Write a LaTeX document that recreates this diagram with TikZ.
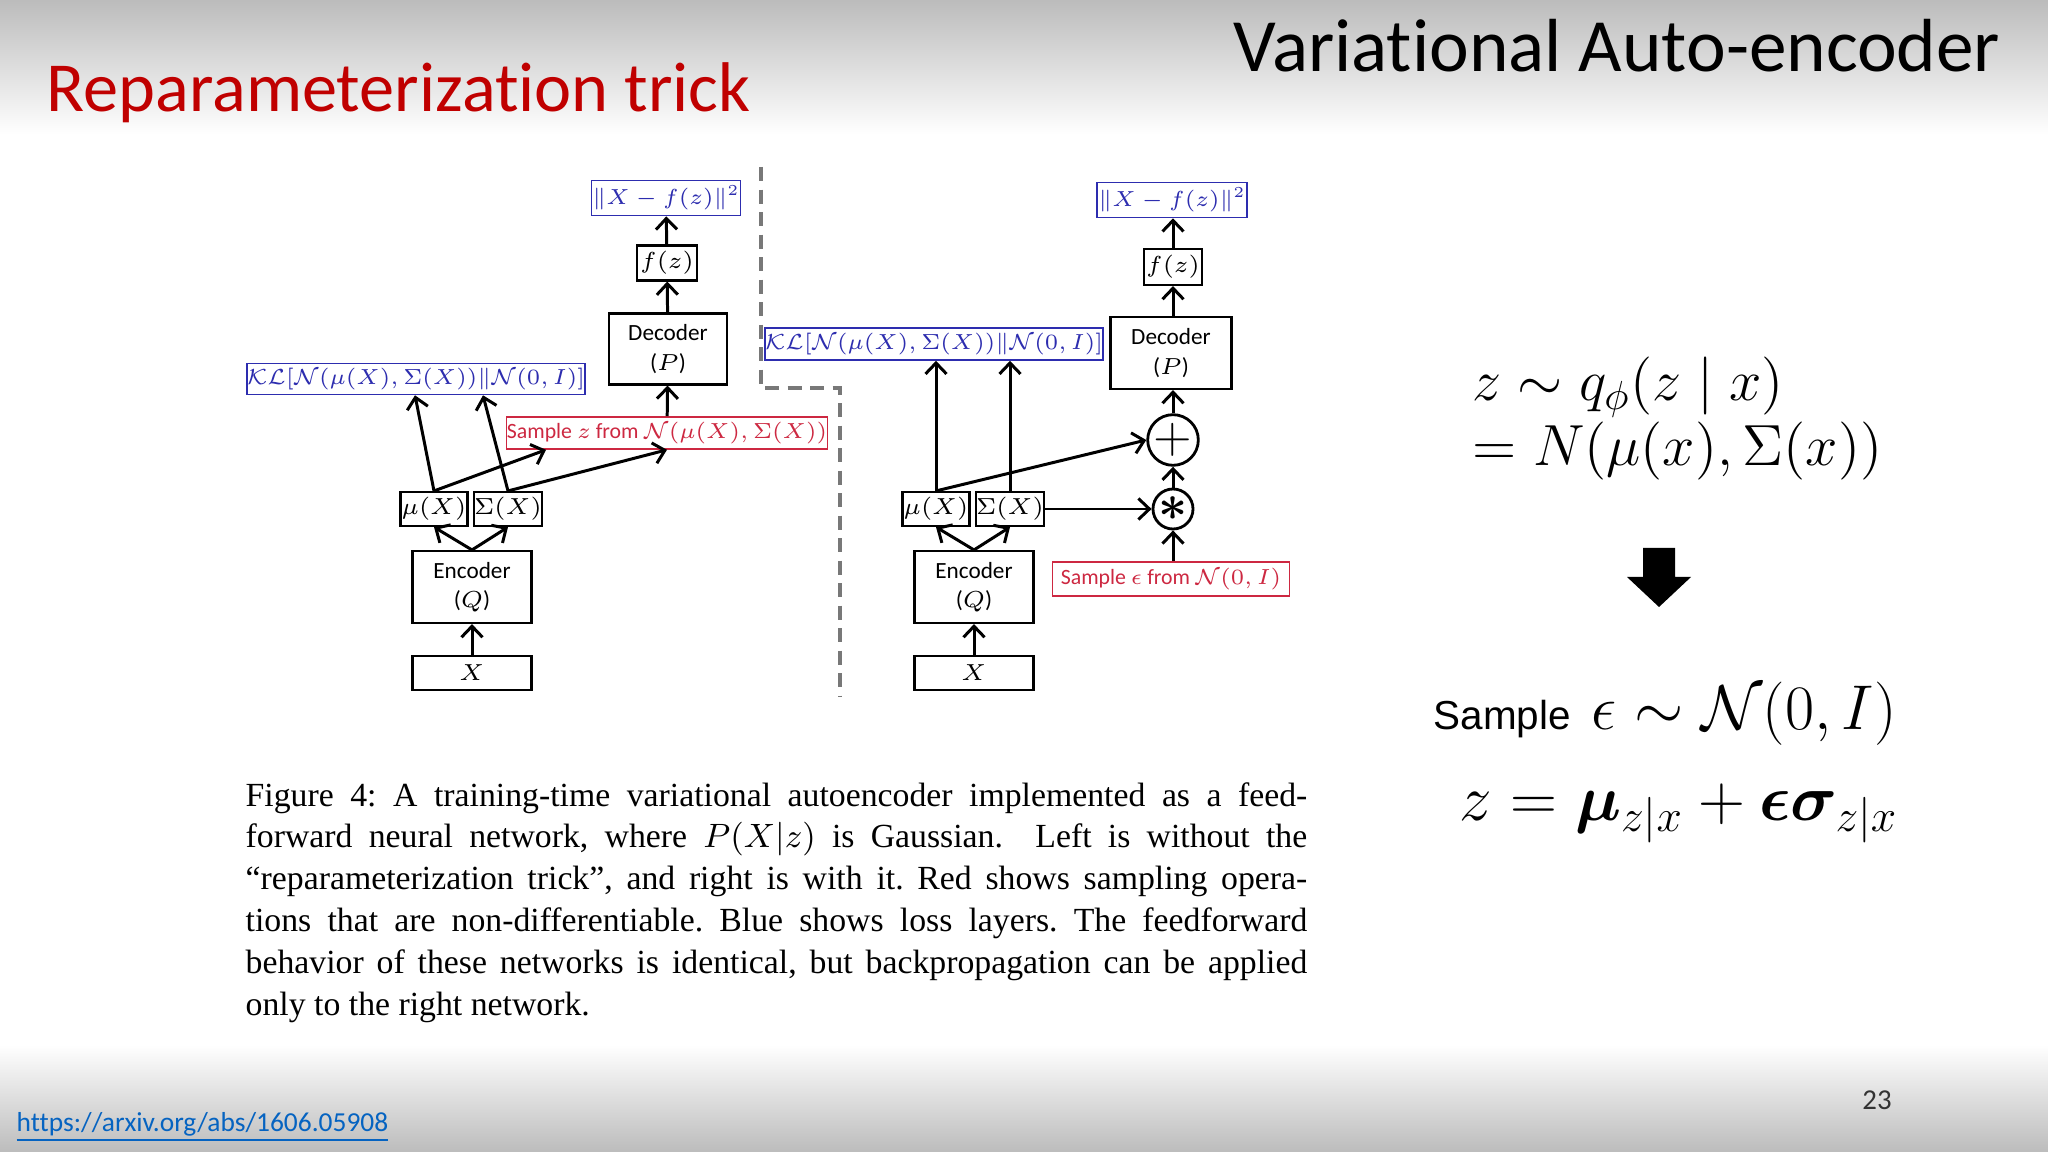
\RequirePackage{fix-cm}
\documentclass[tikz,border=0pt]{standalone}
\usepackage{fontspec}
\usepackage{amsmath,amssymb,bm}
\setsansfont{Carlito}[Ligatures=NoCommon]
\newfontfamily\arialfont{Liberation Sans}
\newfontfamily\capfont{Liberation Serif}
\usetikzlibrary{arrows.meta,calc}

\definecolor{lossblue}{RGB}{45,45,175}
\definecolor{samplered}{RGB}{205,40,65}
\definecolor{titlered}{RGB}{192,0,0}
\definecolor{linkblue}{RGB}{5,99,193}
\definecolor{bandgray}{RGB}{188,188,188}
\definecolor{dashgray}{RGB}{120,120,120}

\tikzset{
  blk/.style={draw, line width=0.6pt, inner sep=0pt, align=center,
    font=\sffamily\fontsize{6.6}{8.4}\selectfont},
  lossbox/.style={blk, draw=lossblue, text=lossblue, line width=0.45pt,
    font=\sffamily\fontsize{6.2}{8}\selectfont},
  smpbox/.style={blk, draw=samplered, text=samplered, line width=0.45pt,
    font=\sffamily\fontsize{6.2}{8}\selectfont},
  opnode/.style={draw, circle, line width=0.8pt, minimum size=0.4cm, inner sep=0pt},
  flow/.style={-{Straight Barb[length=1.1mm,width=2.1mm]}, line width=0.85pt},
}

\begin{document}
\begin{tikzpicture}[x=0.01cm, y=-0.01cm]
    \useasboundingbox (0,0) rectangle (2048,1152);
    \fill[white] (0,0) rectangle (2048,1152);
    \shade[top color=bandgray, bottom color=white] (0,0) rectangle (2048,135);
    \shade[top color=white, bottom color=bandgray] (0,1045) rectangle (2048,1152);

    % slide headings
    \node[anchor=base east, inner sep=0pt, font=\sffamily\fontsize{21.4}{24}\selectfont]
      (vae) at (2001,72) {Variational Auto-encoder};
    \node[anchor=base west, inner sep=0pt, text=titlered, font=\sffamily\fontsize{20}{24}\selectfont]
      (trick) at (46,112) {Reparameterization trick};

    % left network (no trick)
    \node[lossbox, minimum width=1.49cm, minimum height=0.35cm] (loss1) at (666,198) {$\|X-f(z)\|^2$};
    \node[blk, minimum width=0.6cm, minimum height=0.35cm] (fz1) at (667,263) {$f(z)$};
    \node[blk, minimum width=1.18cm, minimum height=0.71cm] (dec1) at (668,349) {Decoder\\($P$)};
    \node[lossbox, minimum width=3.2cm, minimum height=0.31cm] (kl1) at (416,379)
      {$\mathcal{KL}[\mathcal{N}(\mu(X),\Sigma(X))\|\mathcal{N}(0,I)]$};
    \node[smpbox, minimum width=3.21cm, minimum height=0.32cm] (smp1) at (667,433)
      {Sample $z$ from $\mathcal{N}(\mu(X),\Sigma(X))$};
    \node[blk, minimum width=0.67cm, minimum height=0.34cm] (mu1) at (434,509) {$\mu(X)$};
    \node[blk, minimum width=0.66cm, minimum height=0.34cm] (sig1) at (508,509) {$\Sigma(X)$};
    \node[blk, minimum width=1.19cm, minimum height=0.72cm] (enc1) at (472,587) {Encoder\\($Q$)};
    \node[blk, minimum width=1.19cm, minimum height=0.34cm] (x1) at (472,673) {$X$};

    \draw[flow] (x1) -- (enc1);
    \draw[flow] (enc1.north) -- (mu1.south);
    \draw[flow] (enc1.north) -- (sig1.south);
    \draw[flow] (mu1.north) -- ($(kl1.south)+(-1,0)$);
    \draw[flow] (sig1.north) -- ($(kl1.south)+(67,0)$);
    \draw[flow] (mu1.north) -- ($(smp1.south)+(-121,0)$);
    \draw[flow] (sig1.north) -- (smp1.south);
    \draw[flow] (smp1) -- (dec1);
    \draw[flow] (dec1) -- (fz1);
    \draw[flow] (fz1) -- (loss1);

    \draw[dashgray, line width=1.1pt, dash pattern=on 4pt off 2.4pt]
    (761,167) -- (761,388) -- (840,388) -- (840,696);

    % right network (with trick)
    \node[lossbox, minimum width=1.5cm, minimum height=0.35cm] (loss2) at (1172,200) {$\|X-f(z)\|^2$};
    \node[blk, minimum width=0.58cm, minimum height=0.36cm] (fz2) at (1173,267) {$f(z)$};
    \node[blk, minimum width=1.21cm, minimum height=0.72cm] (dec2) at (1171,353) {Decoder\\($P$)};
    \node[lossbox, minimum width=3.2cm, minimum height=0.32cm] (kl2) at (934,344)
      {$\mathcal{KL}[\mathcal{N}(\mu(X),\Sigma(X))\|\mathcal{N}(0,I)]$};
    \node[opnode] (plus) at (1173,440) {\Large$+$};
    \node[opnode] (star) at (1173,509) {\Large$\bm{\ast}$};
    \node[smpbox, minimum width=2.37cm, minimum height=0.34cm] (smp2) at (1171,579)
      {Sample $\epsilon$ from $\mathcal{N}(0,I)$};
    \node[blk, minimum width=0.67cm, minimum height=0.34cm] (mu2) at (936,509) {$\mu(X)$};
    \node[blk, minimum width=0.64cm, minimum height=0.34cm] (sig2) at (1010,509) {$\Sigma(X)$};
    \node[blk, minimum width=1.19cm, minimum height=0.72cm] (enc2) at (974,587) {Encoder\\($Q$)};
    \node[blk, minimum width=1.19cm, minimum height=0.34cm] (x2) at (974,673) {$X$};

    \draw[flow] (x2) -- (enc2);
    \draw[flow] (enc2.north) -- (mu2.south);
    \draw[flow] (enc2.north) -- (sig2.south);
    \draw[flow] (mu2.north) -- (mu2.north |- kl2.south);
    \draw[flow] (sig2.north) -- (sig2.north |- kl2.south);
    \draw[flow] (mu2.north) -- (plus.west);
    \draw[flow] (sig2.east) -- (star.west);
    \draw[flow] (smp2.north -| star) -- (star.south);
    \draw[flow] (star) -- (plus);
    \draw[flow] (plus.north) -- (plus.north |- dec2.south);
    \draw[flow] (dec2.north -| fz2) -- (fz2.south);
    \draw[flow] (fz2) -- (loss2.south -| fz2);

    % caption
    \node[anchor=base west, inner sep=0pt] (caption) at (245,806) {\parbox[t]{10.61cm}{%
      \capfont\fontsize{9.6}{11.9}\selectfont\frenchspacing
      \makebox[\linewidth][s]{Figure 4: A training-time variational autoencoder implemented as a feed-}\\
      \makebox[\linewidth][s]{forward neural network, where $P(X|z)$ is Gaussian.\ \ Left is without the}\\
      \makebox[\linewidth][s]{“reparameterization trick”, and right is with it. Red shows sampling opera-}\\
      \makebox[\linewidth][s]{tions that are non-differentiable. Blue shows loss layers. The feedforward}\\
      \makebox[\linewidth][s]{behavior of these networks is identical, but backpropagation can be applied}\\
      only to the right network.}};

    % formulas on the right
    \node[anchor=base west, inner sep=0pt, font=\fontsize{16.5}{20}\selectfont]
      (qz) at (1472,401) {$z\sim q_\phi(z\mid x)$};
    \node[anchor=base west, inner sep=0pt, font=\fontsize{16.5}{20}\selectfont]
      (nz) at (1472,466) {$=N(\mu(x),\Sigma(x))$};

    \fill (1643,548) -- (1675,548) -- (1675,577) -- (1691,577) -- (1659,607)
      -- (1627,577) -- (1643,577) -- cycle;

    \node[anchor=base west, inner sep=0pt] (eps) at (1433,729)
      {{\arialfont\fontsize{11.5}{14}\selectfont Sample}\hspace{6pt}{\fontsize{18}{22}\selectfont$\epsilon\sim\mathcal{N}(0,I)$}};
    \node[anchor=base west, inner sep=0pt, font=\fontsize{18.5}{22}\selectfont]
      (zeq) at (1459,820) {$z=\bm{\mu}_{z|x}+\bm{\epsilon}\bm{\sigma}_{z|x}$};

    % footer
    \node[anchor=base west, inner sep=0pt, text=linkblue, font=\sffamily\fontsize{7.8}{9}\selectfont]
      (link) at (16,1131) {\underline{https://arxiv.org/abs/1606.05908}};
    \node[anchor=base, inner sep=0pt, text=black!80, font=\sffamily\fontsize{8.2}{9}\selectfont]
      (page) at (1877,1109) {23};
\end{tikzpicture}
\end{document}
